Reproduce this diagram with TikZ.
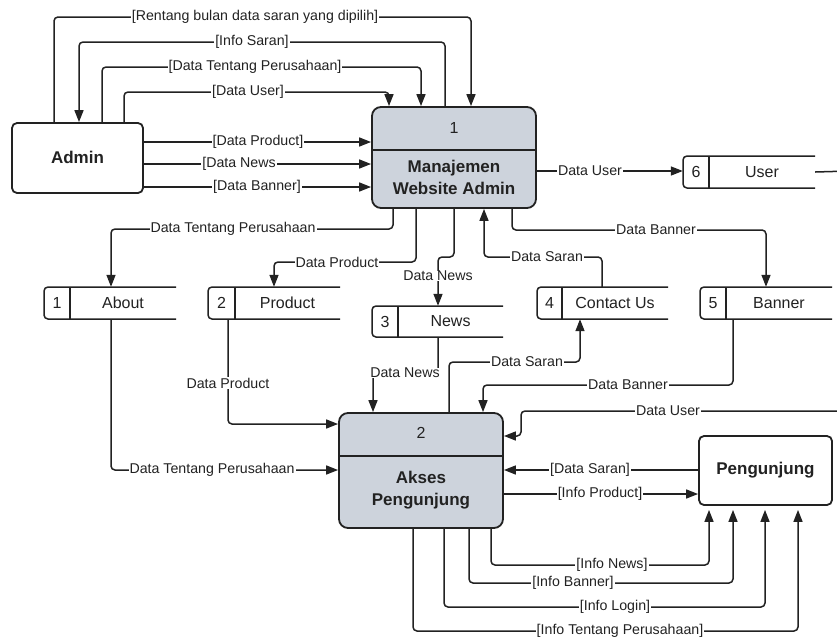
\documentclass[tikz,border=0pt]{standalone}
\usepackage{fontspec}
\setmainfont{Liberation Sans}
\usetikzlibrary{arrows.meta,fit}

\definecolor{ink}{HTML}{222222}
\definecolor{procfill}{HTML}{CDD3DC}

\tikzset{
  link/.style={draw=ink, line width=1.5pt, rounded corners=4pt},
  flow/.style={link, -{Triangle[length=12pt,width=9pt]}},
  flowgap/.style={flow, shorten >=4pt},
  lbl/.style={fill=white, inner xsep=1pt, inner ysep=0.5pt, text=ink,
              font=\fontsize{14.2}{16}\selectfont},
  proc/.style={draw=ink, line width=1.8pt, fill=procfill, rounded corners=9pt, inner sep=0pt},
  ext/.style={draw=ink, line width=1.8pt, fill=white, rounded corners=5pt, inner sep=0pt},
  storeline/.style={draw=ink, line width=1.5pt, rounded corners=4pt},
  numtxt/.style={font=\fontsize{16}{18}\selectfont, text=ink},
  titletxt/.style={font=\fontsize{17}{22}\selectfont\bfseries, align=center, text=ink},
}

% data store: name, left, divider, right, top, bottom, number, label
\newcommand{\dstore}[8]{%
  \node[fit={(#2,#5) (#4,#6)}, inner sep=0pt] (#1) {};
  \draw[storeline] (#4,#5) -- (#2,#5) -- (#2,#6) -- (#4,#6);
  \draw[storeline] (#3,#5) -- (#3,#6);
  \node[numtxt] (#1n) at ({(#2+#3)/2},{(#5+#6)/2}) {#7};
  \node[numtxt] (#1t) at ({(#3+#4)/2},{(#5+#6)/2}) {#8};
}

\begin{document}
\begin{tikzpicture}[x=1pt,y=-1pt]
\useasboundingbox[fill=white] (0,0) rectangle (837,637);

% external entities
\node[ext, fit={(12,123) (143,193)}] (admin) {};
\node[titletxt] (admint) at (77.5,157) {Admin};
\node[ext, fit={(699,436) (832,505)}] (peng) {};
\node[titletxt] (pengt) at (765.5,470) {Pengunjung};

% processes
\node[proc, fit={(372,107) (536,208)}] (p1) {};
\draw[ink, line width=1.5pt] (p1.west |- 0,150) -- (p1.east |- 0,150);
\node[numtxt] (p1n) at (454,128) {1};
\node[titletxt] (p1t) at (454,177) {Manajemen\\Website Admin};

\node[proc, fit={(339,413) (503,528)}] (p2) {};
\draw[ink, line width=1.5pt] (p2.west |- 0,456) -- (p2.east |- 0,456);
\node[numtxt] (p2n) at (421,433) {2};
\node[titletxt] (p2t) at (421,490.5) {Akses\\Pengunjung};

% data stores
\dstore{s1}{44}{70}{176}{287}{319}{1}{About}
\dstore{s2}{208}{235}{340}{287}{319}{2}{Product}
\dstore{s3}{372}{398}{503}{306}{337}{3}{News}
\dstore{s4}{537}{562}{668}{287}{319}{4}{Contact Us}
\dstore{s5}{700}{726}{832}{287}{319}{5}{Banner}
\dstore{s6}{683}{709}{815}{156}{188}{6}{User}

% Admin <-> Manajemen Website Admin
\draw[flow] (54,0 |- admin.north) -- (54,17) -- (471,17) -- (471,0 |- p1.north);
\draw[flow] (445,0 |- p1.north) -- (445,42) -- (79,42) -- (79,0 |- admin.north);
\draw[flow] (102,0 |- admin.north) -- (102,67) -- (421,67) -- (421,0 |- p1.north);
\draw[flow] (124,0 |- admin.north) -- (124,92) -- (389,92) -- (389,0 |- p1.north);
\draw[flow] (admin.east |- 0,142) -- (p1.west |- 0,142);
\draw[flow] (admin.east |- 0,164) -- (p1.west |- 0,164);
\draw[flow] (admin.east |- 0,187) -- (p1.west |- 0,187);
\draw[flow] (p1.east |- 0,171) -- (s6.west |- 0,171);

% Manajemen Website Admin <-> stores
\draw[flow] (393,0 |- p1.south) -- (393,229) -- (111,229) -- (111,0 |- s1.north);
\draw[flow] (416,0 |- p1.south) -- (416,262) -- (274,262) -- (274,0 |- s2.north);
\draw[flow] (454,0 |- p1.south) -- (454,257) -- (438,257) -- (438,0 |- s3.north);
\draw[flow] (602,0 |- s4.north) -- (602,257) -- (484,257) -- (484,0 |- p1.south);
\draw[flow] (512,0 |- p1.south) -- (512,230) -- (766,230) -- (766,0 |- s5.north);

% stores <-> Akses Pengunjung
\draw[flow] (111,0 |- s1.south) -- (111,470) -- (p2.west |- 0,470);
\draw[flow] (228,0 |- s2.south) -- (228,424) -- (p2.west |- 0,424);
\draw[flow] (438,0 |- s3.south) -- (438,373) -- (373,373) -- (373,0 |- p2.north);
\draw[flow] (449,0 |- p2.north) -- (449,362) -- (580,362) -- (580,0 |- s4.south);
\draw[flow] (733,0 |- s5.south) -- (733,385) -- (483,385) -- (483,0 |- p2.north);
\draw[flow] (s6.east) -- (850,171) -- (850,411) -- (521,411) -- (521,436) -- (p2.east |- 0,436);

% Akses Pengunjung <-> Pengunjung
\draw[flow] (peng.west |- 0,470) -- (p2.east |- 0,470);
\draw[flow] (p2.east |- 0,494) -- (peng.west |- 0,494);
\draw[flowgap] (491,0 |- p2.south) -- (491,565) -- (709,565) -- (709,0 |- peng.south);
\draw[flowgap] (469,0 |- p2.south) -- (469,583) -- (733,583) -- (733,0 |- peng.south);
\draw[flowgap] (444,0 |- p2.south) -- (444,607) -- (765,607) -- (765,0 |- peng.south);
\draw[flowgap] (413,0 |- p2.south) -- (413,631) -- (798,631) -- (798,0 |- peng.south);

% flow labels
\node[lbl] (la1) at (255,17) {[Rentang bulan data saran yang dipilih]};
\node[lbl] (la2) at (252,42) {[Info Saran]};
\node[lbl] (la3) at (255,67) {[Data Tentang Perusahaan]};
\node[lbl] (la4) at (248,92) {[Data User]};
\node[lbl] (la5) at (258,142) {[Data Product]};
\node[lbl] (la6) at (239,164) {[Data News};
\node[lbl] (la7) at (257,187) {[Data Banner]};
\node[lbl] (la8) at (590,171) {Data User};

\node[lbl] (lb1) at (233,229) {Data Tentang Perusahaan};
\node[lbl] (lb2) at (337,262) {Data Product};
\node[lbl] (lb3) at (438,276) {Data News};
\node[lbl] (lb4) at (547,257) {Data Saran};
\node[lbl] (lb5) at (656,230) {Data Banner};

\node[lbl] (lc1) at (212,470) {Data Tentang Perusahaan};
\node[lbl] (lc2) at (228,383) {Data Product};
\node[lbl] (lc3) at (405,373) {Data News};
\node[lbl] (lc4) at (527,362) {Data Saran};
\node[lbl] (lc5) at (628,385) {Data Banner};
\node[lbl] (lc6) at (668,411) {Data User};

\node[lbl] (ld1) at (590,470) {[Data Saran]};
\node[lbl] (ld2) at (600,494) {[Info Product]};
\node[lbl] (ld3) at (612,565) {[Info News]};
\node[lbl] (ld4) at (573,583) {[Info Banner]};
\node[lbl] (ld5) at (615,607) {[Info Login]};
\node[lbl] (ld6) at (620,631) {[Info Tentang Perusahaan]};
\end{tikzpicture}
\end{document}
